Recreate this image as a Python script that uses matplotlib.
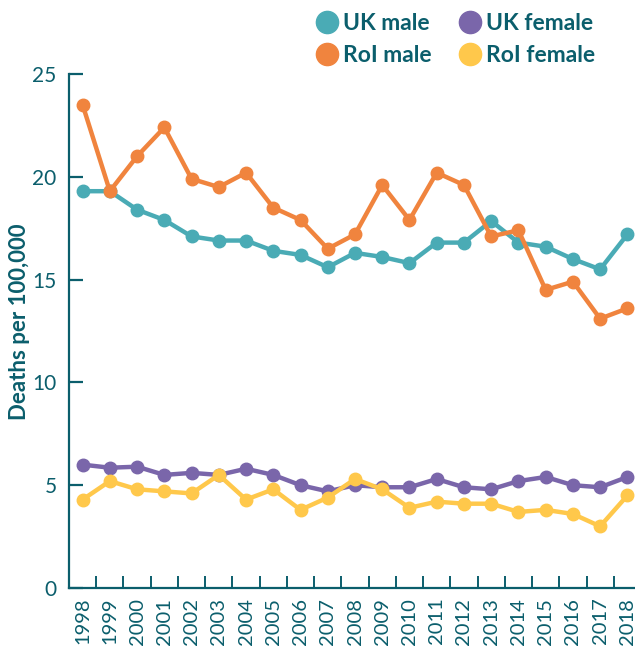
import matplotlib
matplotlib.use("Agg")
import matplotlib.pyplot as plt
from matplotlib.lines import Line2D
import numpy as np

plt.rcParams['font.family'] = ['Lato', 'DejaVu Sans']

years = [str(y) for y in range(1998, 2019)]
uk_male = [19.3, 19.3, 18.4, 17.9, 17.1, 16.9, 16.9, 16.4, 16.2, 15.6, 16.3,
           16.1, 15.8, 16.8, 16.8, 17.85, 16.8, 16.6, 16.0, 15.5, 17.2]
roi_male = [23.5, 19.3, 21.0, 22.4, 19.9, 19.5, 20.2, 18.5, 17.9, 16.5, 17.2,
            19.6, 17.9, 20.2, 19.6, 17.1, 17.4, 14.5, 14.9, 13.1, 13.6]
uk_female = [6.0, 5.85, 5.9, 5.5, 5.6, 5.5, 5.8, 5.5, 5.0, 4.7, 5.0,
             4.9, 4.9, 5.3, 4.9, 4.8, 5.2, 5.4, 5.0, 4.9, 5.4]
roi_female = [4.3, 5.2, 4.8, 4.7, 4.6, 5.5, 4.3, 4.8, 3.8, 4.4, 5.3,
              4.8, 3.9, 4.2, 4.1, 4.1, 3.7, 3.8, 3.6, 3.0, 4.5]
legend_order = ["UK male", "RoI male", "UK female", "RoI female"]
yticks = [0, 5, 10, 15, 20, 25]

c_ukm = "#4AABB5"
c_roim = "#F0843E"
c_ukf = "#7A66AA"
c_roif = "#FFC84B"
dark = "#0B5E6C"

fig = plt.figure(figsize=(6.35, 6.5), dpi=100)
ax = fig.add_axes([69/635, 1-588/650, 572/635, (588-74)/650])
x = np.arange(len(years))

kw = dict(lw=3.2, marker='o', ms=9, solid_capstyle='round', clip_on=False)
ax.plot(x, uk_male, color=c_ukm, **kw)
ax.plot(x, roi_male, color=c_roim, **kw)
ax.plot(x, uk_female, color=c_ukf, **kw)
ax.plot(x, roi_female, color=c_roif, **kw)

ax.set_xlim(-0.5, len(years) - 0.5)
ax.set_ylim(0, 25)
for s in ['top', 'right']:
    ax.spines[s].set_visible(False)
for s in ['left', 'bottom']:
    ax.spines[s].set_color(dark)
    ax.spines[s].set_linewidth(1.6)

ax.set_yticks(yticks)
ax.set_yticklabels([str(v) for v in yticks])
ax.tick_params(axis='y', direction='in', length=10, width=1.6, color=dark,
               labelcolor=dark, labelsize=15, pad=9)
ax.set_xticks(x)
ax.set_xticklabels(years, rotation=90)
ax.tick_params(axis='x', which='major', length=0, labelcolor=dark, labelsize=14.5, pad=7)
ax.set_xticks(np.arange(-0.5, len(years) + 0.5, 1), minor=True)
ax.tick_params(axis='x', which='minor', direction='in', length=9, width=1.4, color=dark)

fig.text(20/635, 1-322/650, "Deaths per 100,000", rotation=90, ha='center', va='center',
         color=dark, fontsize=16, fontweight='bold')

colors = {"UK male": c_ukm, "RoI male": c_roim, "UK female": c_ukf, "RoI female": c_roif}
handles = [Line2D([], [], ls='none', marker='o', ms=16, color=colors[n]) for n in legend_order]
fig.legend(handles, legend_order, ncol=2, loc='upper left', bbox_to_anchor=(294/635, 1.012),
           frameon=False, handletextpad=0.15, columnspacing=1.1, labelspacing=0.5,
           prop={'weight': 'bold', 'size': 16.5}, labelcolor=dark, handlelength=1.1)

fig.savefig("out.png", dpi=100)
